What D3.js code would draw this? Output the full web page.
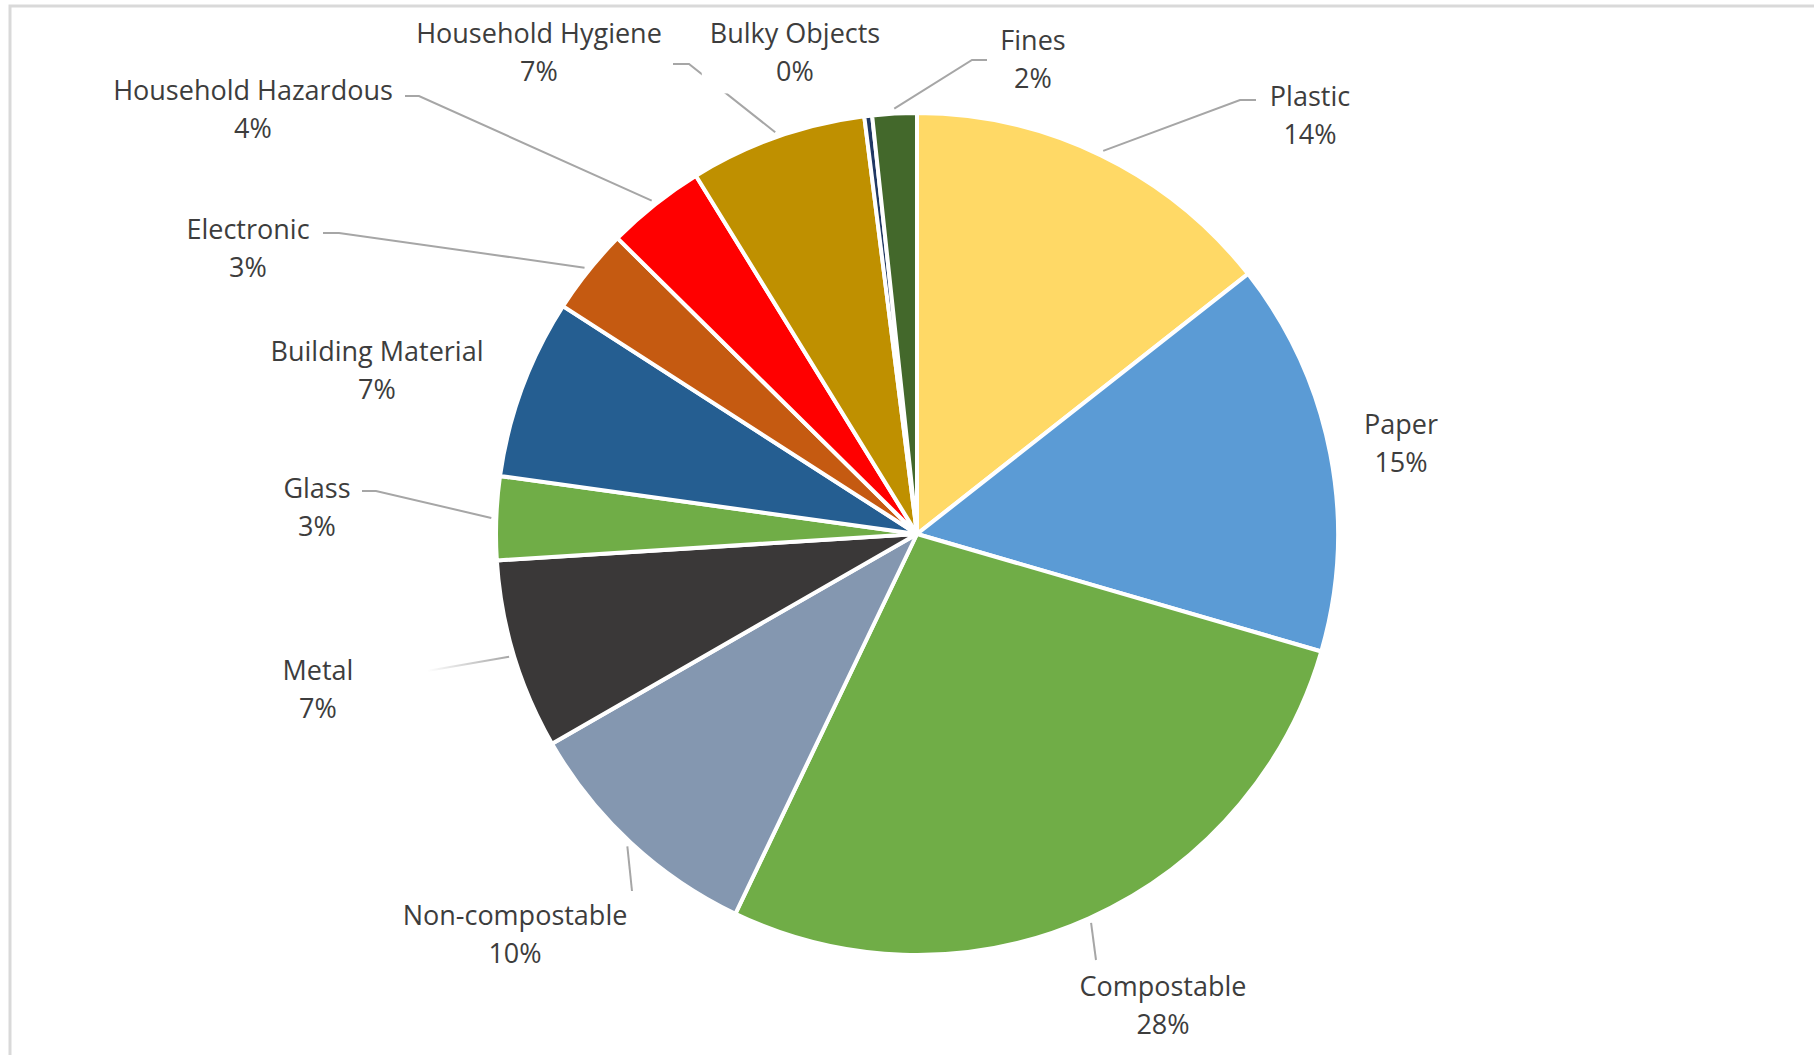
<!DOCTYPE html>
<html>
<head>
<meta charset="utf-8">
<script src="https://cdn.jsdelivr.net/npm/d3@7"></script>
<style>
  body { margin: 0; background: #fff; }
  svg text { font-family: "Open Sans", "Noto Sans", sans-serif; fill: #3d3d3d; }
</style>
</head>
<body>
<div id="chart"></div>
<script>
// waste composition (share in %), clockwise from 12 o'clock
const categories = ["Plastic", "Paper", "Compostable", "Non-compostable", "Metal", "Glass",
    "Building Material", "Electronic", "Household Hazardous", "Household Hygiene", "Bulky Objects", "Fines"];
const values = [14.4, 15.1, 27.6, 9.6, 7.3, 3.2, 6.9, 3.3, 3.8, 6.8, 0.3, 1.7];
const colors = ["#FFD966", "#5B9BD5", "#70AD47", "#8497B0", "#3A3838", "#70AD47",
    "#255E91", "#C55A11", "#FF0000", "#BF9000", "#203864", "#43682B"];

// label placement: centre x, first baseline, and where the leader line starts / bends
const labelLayout = {
    "Plastic":             { x: 1310, y: 106, start: [1256, 100], elbow: [1240, 100] },
    "Paper":               { x: 1401, y: 434 },
    "Compostable":         { x: 1163, y: 996, start: [1096, 960] },
    "Non-compostable":     { x: 515,  y: 925, start: [632, 891] },
    "Metal":               { x: 318,  y: 680, start: [427, 671], fade: true },
    "Glass":               { x: 317,  y: 498, start: [362, 491], elbow: [376, 491] },
    "Building Material":   { x: 377,  y: 361 },
    "Electronic":          { x: 248,  y: 239, start: [323, 233], elbow: [339, 233] },
    "Household Hazardous": { x: 253,  y: 100, start: [405, 96], elbow: [419, 96] },
    "Household Hygiene":   { x: 539,  y: 43,  start: [673, 64], elbow: [689, 64] },
    "Bulky Objects":       { x: 795,  y: 43,  box: true },
    "Fines":               { x: 1033, y: 50,  start: [987, 60], elbow: [972, 60] }
};

const width = 1814;
const height = 1055;
const cx = 917, cy = 534, radius = 421;
const lineGap = 38.4;

const svg = d3.select("#chart")
    .append("svg")
    .attr("width", width)
    .attr("height", height);

svg.append("rect")
    .attr("width", width).attr("height", height)
    .attr("fill", "#fff");

// chart area frame (only top and left edges show)
svg.append("rect")
    .attr("x", 10).attr("y", 6)
    .attr("width", width + 20).attr("height", height + 20)
    .attr("fill", "none")
    .attr("stroke", "#d9d9d9")
    .attr("stroke-width", 3);

const defs = svg.append("defs");
const grad = defs.append("linearGradient")
    .attr("id", "fadeLine")
    .attr("gradientUnits", "userSpaceOnUse");

const data = categories.map((c, i) => ({ name: c, value: values[i], color: colors[i] }));
const total = d3.sum(values);

const pie = d3.pie().value(d => d.value).sort(null);
const arcs = pie(data);

const arc = d3.arc().innerRadius(0).outerRadius(radius);
const tipArc = d3.arc().innerRadius(radius + 5).outerRadius(radius + 5);

const g = svg.append("g").attr("transform", `translate(${cx},${cy})`);

g.selectAll("path.slice")
    .data(arcs)
    .enter().append("path")
    .attr("class", "slice")
    .attr("d", arc)
    .attr("fill", d => d.data.color)
    .attr("stroke", "#fff")
    .attr("stroke-width", 4)
    .attr("stroke-linejoin", "round");

// leader lines
const leaders = svg.append("g");
arcs.forEach(d => {
    const lay = labelLayout[d.data.name];
    if (!lay.start) return;
    const tip = tipArc.centroid(d);
    const pts = [lay.start];
    if (lay.elbow) pts.push(lay.elbow);
    pts.push([cx + tip[0], cy + tip[1]]);
    const path = leaders.append("path")
        .attr("d", d3.line()(pts))
        .attr("fill", "none")
        .attr("stroke", "#a6a6a6")
        .attr("stroke-width", 2);
    if (lay.fade) {
        grad.attr("x1", pts[0][0]).attr("y1", pts[0][1])
            .attr("x2", pts[pts.length - 1][0]).attr("y2", pts[pts.length - 1][1]);
        grad.append("stop").attr("offset", "0%").attr("stop-color", "#ffffff");
        grad.append("stop").attr("offset", "100%").attr("stop-color", "#a6a6a6");
        path.attr("stroke", "url(#fadeLine)");
    }
});

// labels
const labels = svg.append("g");
arcs.forEach(d => {
    const lay = labelLayout[d.data.name];
    const lg = labels.append("g");
    const t = lg.append("text")
        .attr("text-anchor", "middle")
        .style("font-size", "27px");
    t.append("tspan").attr("x", lay.x).attr("y", lay.y).text(d.data.name);
    t.append("tspan").attr("x", lay.x).attr("y", lay.y + lineGap)
        .text(Math.round(d.data.value / total * 100) + "%");
    if (lay.box) {
        const bb = t.node().getBBox();
        lg.insert("rect", "text")
            .attr("x", bb.x - 8).attr("y", bb.y - 4)
            .attr("width", bb.width + 16).attr("height", bb.height + 8)
            .attr("fill", "#fff");
    }
});
</script>
</body>
</html>
